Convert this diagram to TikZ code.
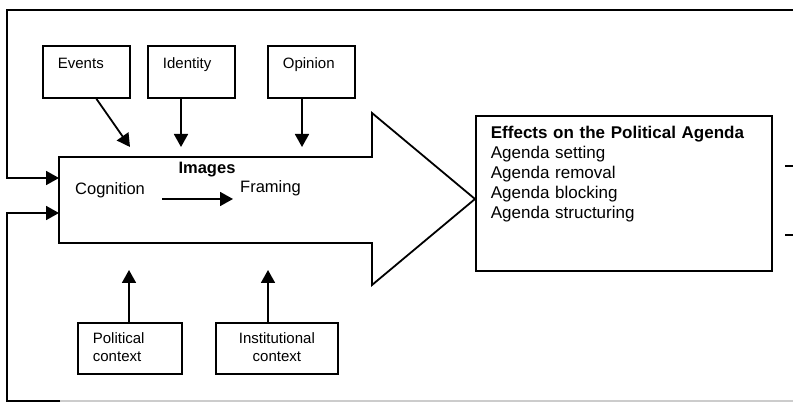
\documentclass[tikz,border=0pt]{standalone}
\usepackage{fontspec}
\setmainfont{Liberation Sans}
\usetikzlibrary{arrows.meta}
\begin{document}
\begin{tikzpicture}[x=1pt,y=-1pt,
  ln/.style={line width=1.8pt,line join=miter},
  arr/.style={ln,-{Triangle[length=13pt,width=14pt]}},
  topbox/.style={draw,ln,anchor=north west,text width=57pt,inner xsep=15pt,inner ysep=0pt,
     align=left,font=\fontsize{15}{18}\selectfont,text height=22.4pt,text depth=29.6pt},
  ctxbox/.style={draw,ln,anchor=north west,inner xsep=15pt,inner ysep=0pt,
     font=\fontsize{15}{18}\selectfont,text height=20.4pt,text depth=30.6pt},
  inlabel/.style={font=\fontsize{16.5}{19}\selectfont,inner sep=0pt}
]
\useasboundingbox (0,0) rectangle (793,403);

% feedback loops (outer frame)
\coordinate (tr) at (793,10);
\coordinate (tl) at (7,10);
\coordinate (br) at (793,401);
\coordinate (bl) at (7,401);
\coordinate (bgrey) at (60,401);
\coordinate (in1) at (59,178);
\coordinate (in2) at (59,213);
\draw[line width=1.2pt,black!20] (br) -- (bgrey);
\draw[arr] (tr) -- (tl) |- (in1);
\draw[arr] (bgrey) -- (bl) |- (in2);

% big arrow
\coordinate (a1) at (59,157);
\coordinate (a2) at (372,157);
\coordinate (a3) at (372,113);
\coordinate (tip) at (475,199);
\coordinate (a5) at (372,285);
\coordinate (a6) at (372,243);
\coordinate (a7) at (59,243);
\draw[ln] (a1) -- (a2) -- (a3) -- (tip) -- (a5) -- (a6) -- (a7) -- cycle;

% texts in the big arrow
\node[inlabel,font=\fontsize{16.5}{19}\selectfont\bfseries] (img) at (207,170) {Images};
\node[inlabel,anchor=west] (cog) at (75,190) {Cognition};
\node[inlabel,anchor=west] (fram) at (240,188) {Framing};
\coordinate (c1) at (162,199);
\coordinate (c2) at (233,199);
\draw[arr] (c1) -- (c2);

% top boxes
\node[topbox] (ev) at (42,45) {Events};
\node[topbox] (id) at (147,45) {Identity};
\node[topbox] (op) at (267,45) {Opinion};
\coordinate (evt) at (130,147);
\coordinate (idt) at (181,147);
\coordinate (opt) at (302,147);
\draw[arr] ([xshift=10pt]ev.south) -- (evt);
\draw[arr] (idt |- id.south) -- (idt);
\draw[arr] (opt |- op.south) -- (opt);

% bottom boxes
\node[ctxbox,text width=74pt,align=left] (pol) at (77,322) {Political\\context};
\node[ctxbox,text width=92pt,align=center] (ins) at (215,322) {Institutional\\context};
\coordinate (polt) at (129,270);
\coordinate (inst) at (268,270);
\draw[arr] (polt |- pol.north) -- (polt);
\draw[arr] (inst |- ins.north) -- (inst);

% effects box
\node[draw,ln,anchor=north west,text width=266pt,inner xsep=15pt,inner ysep=0pt,align=left,
  font=\fontsize{17}{20}\selectfont,text height=23pt,text depth=132pt] (eff) at (475,115)
  {\textbf{Effects on the Political Agenda}\\Agenda setting\\Agenda removal\\Agenda blocking\\Agenda structuring};

% cut-off lines at the right edge
\coordinate (r1a) at (785,166);
\coordinate (r1b) at (793,166);
\coordinate (r2a) at (785,235);
\coordinate (r2b) at (793,235);
\draw[ln] (r1a) -- (r1b);
\draw[ln] (r2a) -- (r2b);
\end{tikzpicture}
\end{document}
